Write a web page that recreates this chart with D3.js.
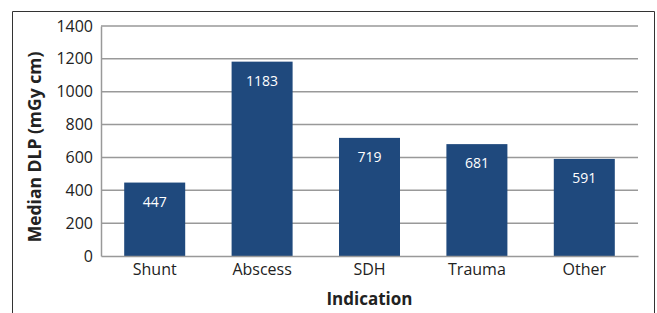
<!DOCTYPE html>
<html>
<head>
<meta charset="utf-8">
<script src="https://cdn.jsdelivr.net/npm/d3@7"></script>
<style>
  body { margin: 0; background: #fff; }
  text { font-family: "Open Sans", "Noto Sans", sans-serif; }
</style>
</head>
<body>
<div id="chart-container"></div>
<script>
var categories = ['Shunt', 'Abscess', 'SDH', 'Trauma', 'Other']
var values = [447, 1183, 719, 681, 591]
var yTicks = [0, 200, 400, 600, 800, 1000, 1200, 1400]

var W = 657, H = 313
var margin = {top: 26, right: 19, bottom: 57, left: 101}
var width = W - margin.left - margin.right
var height = H - margin.top - margin.bottom

var svg = d3.select('#chart-container')
  .append('svg')
  .attr('width', W)
  .attr('height', H)

/* outer frame, open at the bottom */
svg.append('path')
  .attr('d', 'M12.5,313 L12.5,11.5 L654.5,11.5 L654.5,313')
  .attr('fill', 'none')
  .attr('stroke', '#333')
  .attr('stroke-width', 1)

var g = svg.append('g')
  .attr('transform', 'translate(' + margin.left + ', ' + margin.top + ')')

var xScale = d3.scaleBand()
  .domain(categories)
  .range([0, width])
  .paddingInner(0.432)
  .paddingOuter(0.216)

var yScale = d3.scaleLinear()
  .domain([0, 1400])
  .range([height, 0])

/* gridlines */
g.selectAll('.grid')
  .data(yTicks.filter(d => d > 0))
  .enter().append('line')
  .attr('class', 'grid')
  .attr('x1', 0)
  .attr('x2', width)
  .attr('y1', d => yScale(d))
  .attr('y2', d => yScale(d))
  .attr('stroke', '#999')
  .attr('stroke-width', 1.5)

/* y axis */
var yAxis = g.append('g')
  .call(d3.axisLeft(yScale).tickValues(yTicks).tickFormat(d3.format('d')).tickSize(0).tickPadding(8))
yAxis.select('.domain').attr('stroke', '#999').attr('stroke-width', 1.5)
yAxis.selectAll('text').attr('font-size', 16).attr('fill', '#222')

/* bars */
g.selectAll('.bar')
  .data(values)
  .enter().append('rect')
  .attr('class', 'bar')
  .attr('x', (d, i) => xScale(categories[i]))
  .attr('y', d => yScale(d))
  .attr('width', xScale.bandwidth())
  .attr('height', d => height - yScale(d))
  .attr('fill', '#1f497d')

g.selectAll('.val')
  .data(values)
  .enter().append('text')
  .attr('class', 'val')
  .attr('x', (d, i) => xScale(categories[i]) + xScale.bandwidth() / 2)
  .attr('y', d => yScale(d) + 24)
  .attr('text-anchor', 'middle')
  .attr('font-size', 14)
  .attr('fill', '#fff')
  .text(d => d)

/* x axis */
var xAxis = g.append('g')
  .attr('transform', 'translate(0, ' + height + ')')
  .call(d3.axisBottom(xScale).tickSize(0).tickPadding(8))
xAxis.select('.domain').attr('stroke', '#999').attr('stroke-width', 1.5)
xAxis.selectAll('text').attr('font-size', 16).attr('fill', '#222')

/* axis titles */
svg.append('text')
  .attr('x', margin.left + width / 2)
  .attr('y', 305)
  .attr('text-anchor', 'middle')
  .attr('font-size', 17)
  .attr('font-weight', 'bold')
  .attr('fill', '#222')
  .text('Indication')

svg.append('text')
  .attr('transform', 'translate(41, 147) rotate(-90)')
  .attr('text-anchor', 'middle')
  .attr('font-size', 17.5)
  .attr('font-weight', 'bold')
  .attr('fill', '#222')
  .text('Median DLP (mGy cm)')
</script>
</body>
</html>
